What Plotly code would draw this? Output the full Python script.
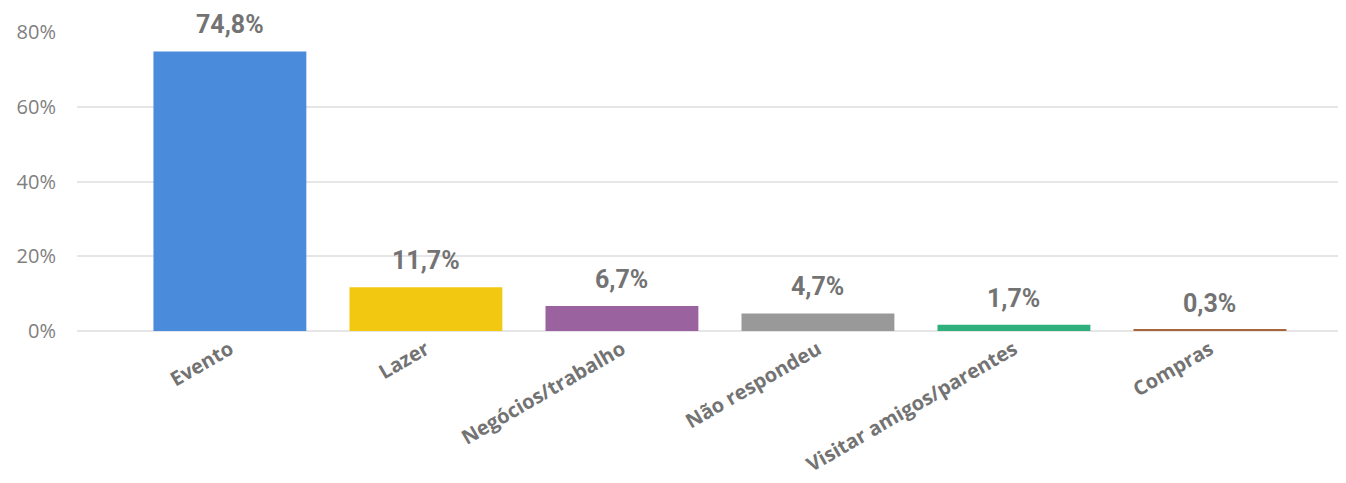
import plotly.graph_objects as go

categories = ["Evento", "Lazer", "Negócios/trabalho", "Não respondeu", "Visitar amigos/parentes", "Compras"]
values = [74.8, 11.7, 6.7, 4.7, 1.7, 0.3]
value_labels = ["74,8%", "11,7%", "6,7%", "4,7%", "1,7%", "0,3%"]
colors = ["#4A8CDB", "#F2C811", "#9B62A0", "#999999", "#2EAF7D", "#A8643A"]
y_ticks = [0, 20, 40, 60, 80]
y_tick_labels = ["0%", "20%", "40%", "60%", "80%"]

fig = go.Figure(
    go.Bar(
        x=categories,
        y=values,
        marker=dict(color=colors, line=dict(width=0)),
        width=0.78,
        hoverinfo="x+y",
    )
)

for cat, val, lab in zip(categories, values, value_labels):
    fig.add_annotation(
        x=cat, y=val, text=lab, showarrow=False,
        xanchor="center", yanchor="bottom", yshift=10,
        font=dict(family="Roboto, sans-serif", weight="bold", size=25, color="#737373"),
    )

# page body has an 8px default margin; compensate so the plot sits where the reference does
fig.update_layout(
    width=1338,
    height=475,
    margin=dict(l=69, r=0, t=24, b=152),
    paper_bgcolor="white",
    plot_bgcolor="white",
    showlegend=False,
    font=dict(family="Open Sans, sans-serif"),
)

fig.update_xaxes(
    range=[-0.78, 5.694],
    tickangle=-30,
    tickfont=dict(family="Open Sans, sans-serif", size=20, color="#737373", weight="bold"),
    showgrid=False,
    showline=False,
    ticks="",
    ticklabelstandoff=2,
)

fig.update_yaxes(
    range=[0, 80],
    tickvals=y_ticks,
    ticktext=y_tick_labels,
    tickfont=dict(family="Open Sans, sans-serif", size=20, color="#7f7f7f"),
    showgrid=True,
    gridcolor="#e6e6e6",
    gridwidth=2,
    zeroline=True,
    zerolinecolor="#e6e6e6",
    zerolinewidth=2,
    ticks="",
    ticklabelstandoff=20,
)

fig.write_html("out.html")
